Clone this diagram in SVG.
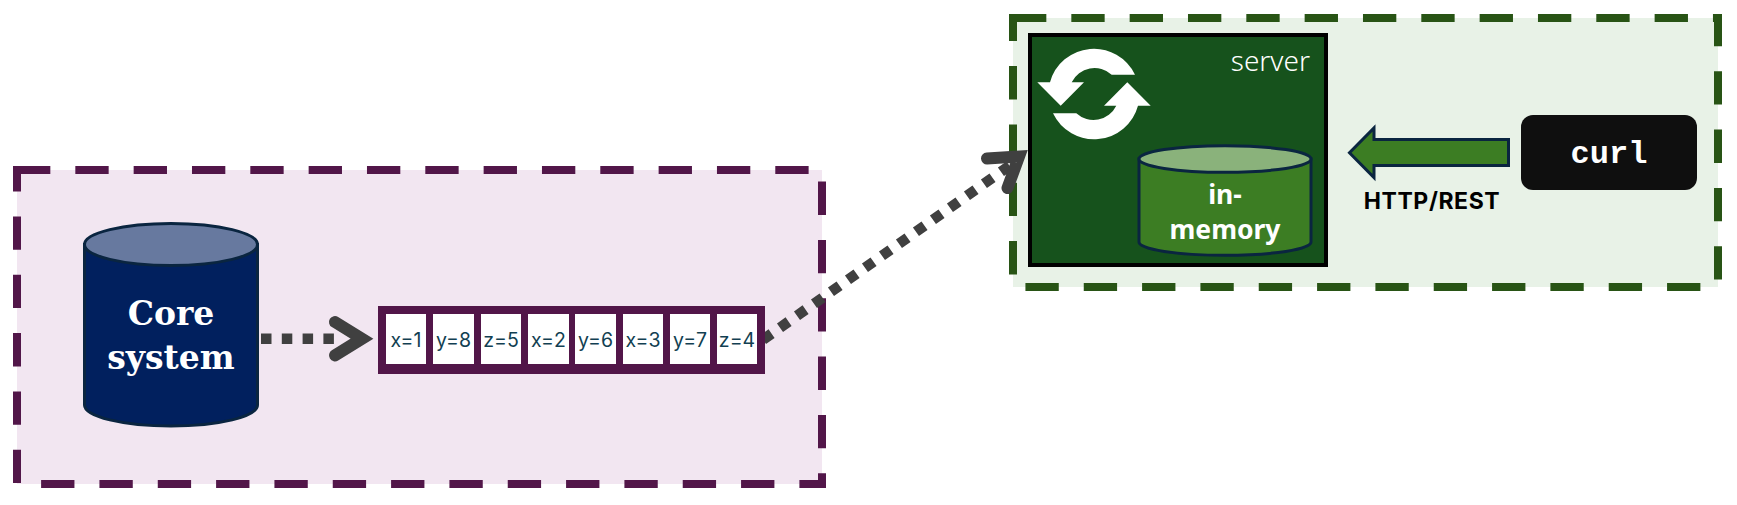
<svg xmlns="http://www.w3.org/2000/svg" width="1737" height="505" viewBox="0 0 1737 505">
<defs>
<style>
.zone{stroke-width:8;stroke-dasharray:33.33 25}
.dots{fill:none;stroke:#404040;stroke-width:10.5;stroke-dasharray:10.5 10.3}
.head{fill:none;stroke:#404040;stroke-width:12;stroke-linecap:round;stroke-linejoin:miter}
.cyl{stroke:#0a2540;stroke-width:3}
.cell{fill:#fff}
.val{font:19.500px "Inter",sans-serif;fill:#123f52;text-anchor:middle}
.sans{font-family:"Noto Sans",sans-serif}
.lbl{font-weight:700;fill:#fff;text-anchor:middle}
.serif{font-family:"DejaVu Serif",serif;font-size:33px}
</style>
</defs>
<rect fill="#fff" width="1737" height="505"/>
<g id="zone-core"><rect class="zone" x="17" y="170" width="805" height="314" fill="#f2e6f1" stroke="#521649"/></g>
<g id="zone-server"><rect class="zone" x="1013" y="18" width="705" height="269" fill="#e8f2e7" stroke="#285415"/></g>
<g id="connectors">
<path class="dots" d="M261 338.7H335"/>
<path class="head" d="M335 322L362 338.7L335 355.4"/>
<path class="dots" d="M763 339.7L1011 164.7"/>
<path class="head" d="M987 158.500L1019 156.500L1007.500 188"/>
<path d="M1508.500 139.500H1374V128L1349.500 152.700L1374 177.500V165.500H1508.500Z" fill="#3c7d23" stroke="#0a2540" stroke-width="3"/>
</g>
<g id="core-system">
<path class="cyl" d="M84.500 244.500V405A86.500 21 0 0 0 257.500 405V244.500Z" fill="#01205e"/>
<ellipse class="cyl" cx="171" cy="244.500" rx="86.500" ry="21" fill="#67799f"/>
<text class="lbl serif" x="171" y="324.500">Core</text>
<text class="lbl serif" x="171" y="369">system</text>
</g>
<g id="array">
<rect x="378" y="306" width="387" height="68" fill="#521649"/>
<rect class="cell" x="386" y="314" width="40" height="50"/>
<rect class="cell" x="433" y="314" width="41" height="50"/>
<rect class="cell" x="481" y="314" width="40" height="50"/>
<rect class="cell" x="528" y="314" width="41" height="50"/>
<rect class="cell" x="575" y="314" width="41" height="50"/>
<rect class="cell" x="623" y="314" width="40" height="50"/>
<rect class="cell" x="670" y="314" width="40" height="50"/>
<rect class="cell" x="717" y="314" width="40" height="50"/>
<text class="val" x="406" y="346.500">x=1</text>
<text class="val" x="453.500" y="346.500">y=8</text>
<text class="val" x="501" y="346.500">z=5</text>
<text class="val" x="548.500" y="346.500">x=2</text>
<text class="val" x="595.500" y="346.500">y=6</text>
<text class="val" x="643" y="346.500">x=3</text>
<text class="val" x="690" y="346.500">y=7</text>
<text class="val" x="737" y="346.500">z=4</text>
</g>
<g id="server">
<rect x="1030" y="35" width="296" height="230" fill="#16521c" stroke="#000" stroke-width="4"/>
<text class="sans" x="1310" y="70.700" font-size="28" font-weight="300" fill="#fff" text-anchor="end">server</text>
<path fill="#fff" d="M1135 74.700A45.500 45.500 0 0 0 1050 82.300H1037.300L1060.700 105.700L1084 82.300H1071.700A25.400 25.400 0 0 1 1111.700 74.700Z"/>
<path fill="#fff" d="M1053 113.300A45.500 45.500 0 0 0 1138 105.700H1150.700L1127.300 82.300L1104 105.700H1116.300A25.400 25.400 0 0 1 1076.300 113.300Z"/>
</g>
<g id="in-memory">
<path class="cyl" d="M1139 159V242A86 13.300 0 0 0 1311 242V159Z" fill="#3c7d23"/>
<ellipse class="cyl" cx="1225" cy="159" rx="86" ry="13.300" fill="#8ab27b"/>
<text class="lbl sans" x="1225" y="204" font-size="26.500">in-</text>
<text class="lbl sans" x="1225" y="238.700" font-size="26.500">memory</text>
</g>
<g id="curl">
<rect x="1521" y="115" width="176" height="75" rx="12" fill="#0f0f0f"/>
<text x="1609" y="163.300" font-family="Liberation Mono,monospace" font-weight="700" font-size="32" fill="#fff" text-anchor="middle">curl</text>
</g>
<text id="http-label" x="1432" y="209.300" font-family="Inter,sans-serif" font-size="23" font-weight="700" letter-spacing=".6" fill="#000" text-anchor="middle">HTTP/REST</text>
</svg>
